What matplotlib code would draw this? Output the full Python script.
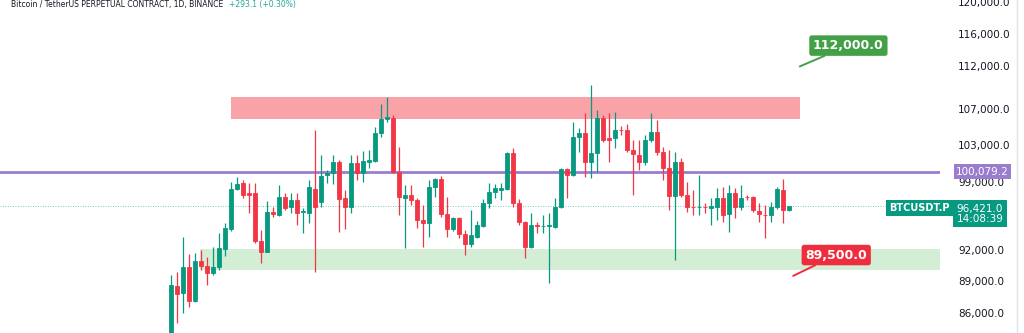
import matplotlib
matplotlib.use('Agg')
import matplotlib.pyplot as plt
from matplotlib.ticker import FixedLocator, NullLocator, FuncFormatter, NullFormatter
import matplotlib.transforms as mtransforms

# ---- Daily OHLC (BTCUSDT.P) ----
opens = [83120, 88540, 87880, 90360, 87130, 90940, 90460, 89780, 90360, 92120,
         94110, 98230, 98860, 97810, 97810, 92910, 91820, 95840, 95530, 97390,
         96360, 97080, 95840, 95740, 98230, 96870, 99710, 99930, 101110, 97290,
         96360, 101000, 99930, 101110, 101220, 104300, 105870, 105990, 100030, 97290,
         97600, 97080, 95020, 94720, 98440, 99290, 95640, 94110, 95230, 93610,
         92610, 93310, 94420, 96770, 97910, 98120, 98230, 102090, 96770, 94820,
         92320, 94520, 94420, 94420, 94310, 96360, 100350, 99710, 103850, 104300,
         101110, 102090, 105990, 103740, 103740, 104630, 104630, 102420, 101870, 101110,
         103520, 104410, 102200, 100460, 97500, 101110, 97600, 96360, 96300, 96360,
         96250, 96360, 97290, 95640, 97810, 96360, 97390, 97390, 95940, 95530,
         95530, 96360, 98120, 96050]
highs = [89590, 89880, 93310, 91630, 91730, 92020, 91330, 92320, 93710, 94720,
         98970, 99500, 99180, 98860, 98860, 94010, 96970, 96360, 98650, 97810,
         97810, 97810, 96250, 99180, 104630, 101870, 100250, 101870, 101330, 98120,
         101870, 101870, 102310, 102420, 104970, 107590, 108400, 106330, 102750, 98650,
         98650, 97290, 96560, 99180, 99390, 99610, 97390, 95330, 95330, 94010,
         96050, 94920, 97180, 98860, 98760, 98860, 102200, 102640, 97180, 94900,
         95740, 94820, 95530, 95740, 97290, 100460, 100460, 105530, 104860, 106560,
         109800, 106900, 106330, 106560, 106670, 105080, 105310, 103520, 103520, 104080,
         106560, 105760, 102750, 102420, 102200, 101550, 98970, 98120, 99710, 96770,
         97290, 98330, 98440, 98650, 98330, 98650, 97600, 97500, 96770, 96560,
         96870, 98440, 99290, 96460]
lows = [82680, 85100, 86020, 86570, 87040, 90070, 88640, 89590, 90070, 91430,
        93910, 98120, 97290, 95740, 92710, 90750, 91780, 95330, 95430, 96050,
        95740, 94520, 93710, 94720, 89880, 96360, 98860, 98760, 93810, 94110,
        95740, 99180, 98970, 100460, 101110, 103850, 105530, 99930, 95530, 92220,
        96560, 94210, 92320, 93310, 97390, 95330, 93310, 93910, 93210, 91530,
        92320, 93210, 94310, 96250, 97290, 97080, 98120, 96360, 94520, 91240,
        92220, 93710, 93710, 88830, 94210, 96250, 97290, 99610, 102200, 99500,
        99390, 100030, 103300, 101110, 102640, 104080, 102200, 97600, 100250, 100780,
        103300, 101870, 99180, 96050, 91040, 97390, 95840, 95530, 95530, 95740,
        94520, 95020, 94820, 93810, 95230, 96050, 97080, 95840, 94820, 93210,
        94820, 96150, 94720, 95940]
closes = [88640, 87790, 90360, 87130, 90940, 90460, 89780, 90360, 92220, 94210,
          98230, 98760, 97600, 97600, 92910, 91820, 95840, 95640, 97390, 96250,
          97080, 95740, 95940, 98440, 96360, 99610, 99930, 101110, 97180, 96360,
          101000, 99930, 101220, 101330, 104300, 105870, 106100, 100030, 97390, 97600,
          97080, 95020, 94720, 98440, 99290, 95640, 94110, 95230, 93610, 92610,
          93510, 94520, 96770, 97910, 98330, 98330, 102090, 96770, 94820, 92320,
          94520, 94420, 94460, 94520, 96360, 100350, 99710, 103850, 104300, 101110,
          102090, 105990, 103520, 103520, 104630, 104600, 102420, 101980, 101110, 103520,
          104410, 102200, 100460, 97500, 101110, 97600, 96360, 96300, 96360, 96330,
          96460, 97290, 95530, 97810, 96360, 97290, 97350, 96050, 95640, 95500,
          96360, 98230, 96050, 96421]

price_ticks = [86000, 89000, 92000, 99000, 103000, 107000, 112000, 116000, 120000]
supply_zone = (105900, 108400)
demand_zone = (90060, 92110)
pivot_level = 100079.2
last_price = 96421.0
target_up = 112000.0
target_down = 89500.0
title_text = "Bitcoin / TetherUS PERPETUAL CONTRACT, 1D, BINANCE"
change_text = "+293.1 (+0.30%)"
symbol = "BTCUSDT.P"
countdown = "14:08:39"

GREEN = '#089981'
RED = '#F23645'

fig = plt.figure(figsize=(10.24, 3.33), dpi=100)
fig.patch.set_facecolor('white')
ax = fig.add_axes([0, 0, 940 / 1024, 1])
ax.set_facecolor('white')
ax.set_yscale('log')
ax.set_ylim(84190, 120257)
ax.set_xlim(-28.5, 128.17)

n = len(opens)
xs = list(range(n))

# zones
ax.fill_between([10, 104.8], supply_zone[0], supply_zone[1], color='#f9a3a9', lw=0, zorder=1)
ax.fill_between([4.83, 128.17], demand_zone[0], demand_zone[1], color='#d4edd5', lw=0, zorder=1)

# lines
ax.axhline(pivot_level, color='#9b7dcf', lw=2.0, zorder=2)
ax.axhline(last_price, color=GREEN, lw=0.6, ls=(0, (1, 2)), alpha=0.7, zorder=1.5)

# candles
cols = [GREEN if c >= o else RED for o, c in zip(opens, closes)]
ax.vlines(xs, lows, highs, colors=cols, lw=0.9, zorder=3)
bottoms = [min(o, c) for o, c in zip(opens, closes)]
heights = [abs(c - o) for o, c in zip(opens, closes)]
ax.bar(xs, heights, bottom=bottoms, width=0.68, color=cols, edgecolor=cols, lw=0.6, zorder=4)

# axis styling
for s in ax.spines.values():
    s.set_visible(False)
ax.xaxis.set_major_locator(NullLocator())
ax.xaxis.set_minor_locator(NullLocator())
ax.yaxis.tick_right()
ax.yaxis.set_major_locator(FixedLocator(price_ticks))
ax.yaxis.set_minor_locator(NullLocator())
ax.yaxis.set_minor_formatter(NullFormatter())
ax.yaxis.set_major_formatter(FuncFormatter(lambda v, p: f"{v:,.1f}"))
ax.tick_params(axis='y', length=0, pad=13, labelsize=7.5, labelcolor='#131722')

# target labels
ax.annotate(f"{target_up:,.1f}", xy=(104.8, target_up), xytext=(35, 15), textcoords='offset points',
            ha='center', va='center', fontsize=9, fontweight='bold', color='white',
            bbox=dict(boxstyle='round,pad=0.3,rounding_size=0.2', fc='#43a047', ec='none'),
            arrowprops=dict(arrowstyle='-', color='#43a047', lw=1.4, shrinkA=0, shrinkB=0),
            zorder=6)
ax.annotate(f"{target_down:,.1f}", xy=(103.7, target_down), xytext=(31, 15), textcoords='offset points',
            ha='center', va='center', fontsize=9, fontweight='bold', color='white',
            bbox=dict(boxstyle='round,pad=0.3,rounding_size=0.2', fc='#ee2d3e', ec='none'),
            arrowprops=dict(arrowstyle='-', color='#ee2d3e', lw=1.4, shrinkA=0, shrinkB=0),
            zorder=6)

# right-side price boxes
trans = mtransforms.blended_transform_factory(fig.transFigure, ax.transData)
ax.text(982.5 / 1024, pivot_level, f"{pivot_level:,.1f}", transform=trans, ha='center', va='center',
        fontsize=7.5, color='white', clip_on=False, zorder=10,
        bbox=dict(boxstyle='square,pad=0.25', fc='#9b7dcf', ec='none'))
ax.text(919.5 / 1024, 96250, symbol, transform=trans, ha='center', va='center',
        fontsize=7, fontweight='bold', color='white', clip_on=False, zorder=10,
        bbox=dict(boxstyle='square,pad=0.3', fc=GREEN, ec='none'))
ax.text(980 / 1024, 95640, f"{last_price:,.1f}\n{countdown}", transform=trans, ha='center', va='center',
        fontsize=7.5, color='white', clip_on=False, zorder=10, linespacing=1.1,
        bbox=dict(boxstyle='square,pad=0.3', fc=GREEN, ec='none'))

# header
fig.text(11 / 1024, 1 - 5 / 333, title_text, fontsize=5.5, color='#131722', ha='left', va='center')
fig.text(229 / 1024, 1 - 5 / 333, change_text, fontsize=5.5, color='#26a69a', ha='left', va='center')

# right panel border
fig.add_artist(plt.Line2D([1017 / 1024, 1017 / 1024], [0, 1], transform=fig.transFigure,
                          color='#e0e3eb', lw=1))

fig.savefig('out.png', dpi=100, facecolor='white')
